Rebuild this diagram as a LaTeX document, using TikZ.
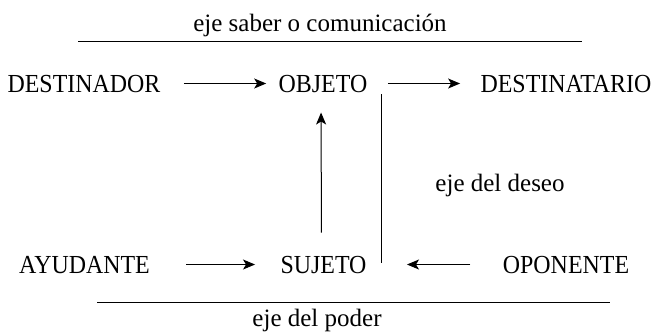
\documentclass[tikz,border=0pt]{standalone}
\usepackage{fontspec}
\setmainfont{Liberation Serif}
\newfontfamily\capsfont{Liberation Serif}[FakeStretch=0.92]
\usetikzlibrary{arrows.meta}

\begin{document}
\begin{tikzpicture}[
>={Stealth[length=12pt,width=10pt,inset=3pt]},
x=1pt, y=-1pt,
line width=1pt,
every node/.style={font=\fontsize{25}{30}\selectfont, inner sep=0pt},
actant/.style={font=\fontsize{26}{30}\capsfont, text height=17pt, text depth=0pt},
]
\useasboundingbox (0,0) rectangle (655,333);

%% eje saber o comunicacion
% nodes
\node[anchor=base] (saber) at (320,31) {eje saber o comunicación};
\node[actant] (dest) at (84,83.5) {DESTINADOR};
\node[actant] (obj) at (323,83.5) {OBJETO};
\node[actant] (dtario) at (566,83.5) {DESTINATARIO};
% arrows
\draw (78,41) -- (582,41);
\draw[->, shorten <=23pt, shorten >=12pt] (dest) -- (obj);
\draw[->, shorten <=20pt, shorten >=20pt] (obj) -- (dtario);

%% eje del deseo
\node (deseo) at (500,185) {eje del deseo};
\coordinate (dtop) at (381,94);
\coordinate (dbot) at (381,263);
\draw (dtop) -- (dbot);

%% eje del poder
% nodes
\node[actant] (ayu) at (84.5,264.5) {AYUDANTE};
\node[actant] (suj) at (323.5,264.5) {SUJETO};
\node[actant] (opo) at (566,264.5) {OPONENTE};
\node[anchor=base] (poder) at (317,326) {eje del poder};
% arrows
\draw[->, shorten <=36pt, shorten >=25pt] (ayu) -- (suj);
\draw[->, shorten <=32pt, shorten >=40pt] (opo) -- (suj);
\draw[->, shorten <=23pt, shorten >=20pt] ([xshift=-2pt]suj.north) -- ([xshift=-2pt]obj.south);
\draw (97,302) -- (610,302);
\end{tikzpicture}
\end{document}
